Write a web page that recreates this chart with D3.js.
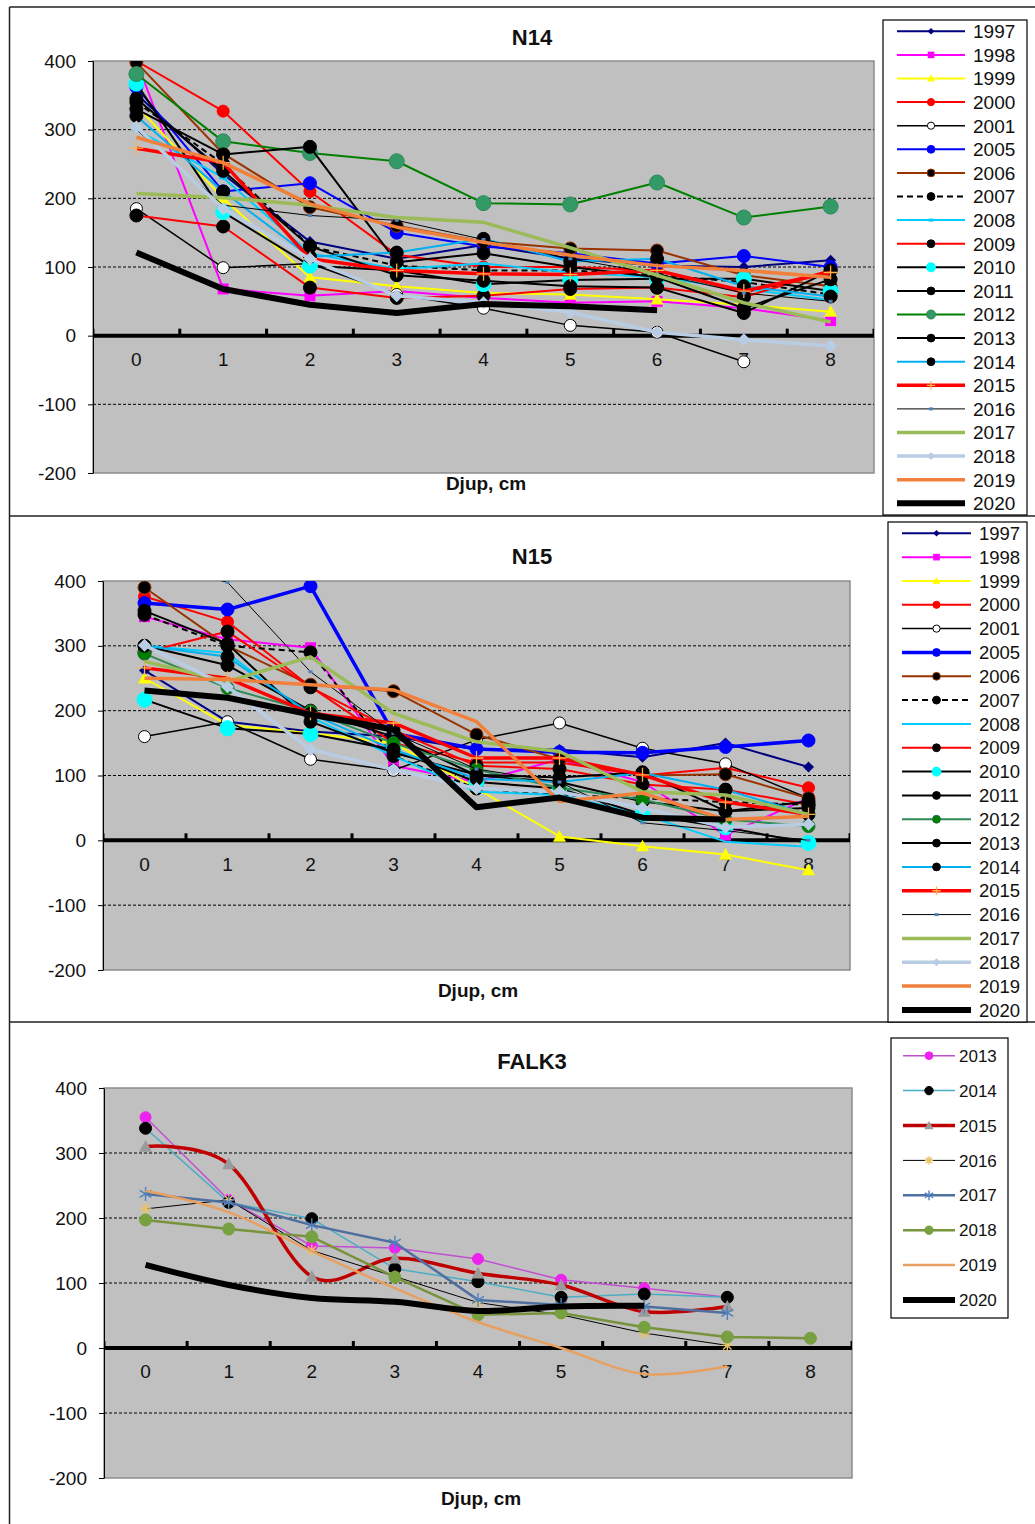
<!DOCTYPE html>
<html>
<head>
<meta charset="utf-8">
<script src="https://cdn.jsdelivr.net/npm/d3@7"></script>
<style>
  body { margin: 0; background: #fff; }
  text { font-family: "Liberation Sans", Arial, sans-serif; fill: #111; }
</style>
</head>
<body>
<svg id="viz"></svg>
<script>
// depth categories and y ticks (shared by all three charts)
const depths = [0, 1, 2, 3, 4, 5, 6, 7, 8];
const yTicks = [400, 300, 200, 100, 0, -100, -200];
const gridValues = [300, 200, 100, -100];

// N14 – one row per year, one value per depth (null = no value)
const n14Years = [1997, 1998, 1999, 2000, 2001, 2005, 2006, 2007, 2008, 2009, 2010,
  2011, 2012, 2013, 2014, 2015, 2016, 2017, 2018, 2019, 2020];
const n14Values = [
  [352, 235, 137, 112, 132, 112, 102, 100, 110],  // 1997
  [400, 68, 58, 65, 55, 48, 50, 40, 22],          // 1998
  [335, 200, 85, 72, 62, 60, 53, 45, 35],         // 1999
  [400, 327, 210, 118, 100, 100, 95, 62, 95],     // 2000
  [185, 99, 105, 60, 40, 15, 5, -38, null],       // 2001
  [362, 210, 222, 150, 130, 120, 105, 116, 100],  // 2005
  [398, 265, 187, 160, 137, 127, 124, 88, 72],    // 2006
  [340, 250, 130, 102, 95, 95, 88, 78, 60],       // 2007
  [300, 230, 120, 97, 105, 92, 85, 68, 52],       // 2008
  [175, 159, 70, 55, 58, 68, 70, 56, 95],         // 2009
  [367, 180, 102, 95, 75, 81, 83, 83, 65],        // 2010
  [345, 240, 130, 88, 80, 72, 70, 33, 95],        // 2011
  [381, 283, 266, 254, 193, 191, 223, 172, 188],  // 2012
  [330, 264, 275, 107, 120, 100, 85, 40, 82],     // 2013
  [320, 210, 115, 121, 141, 108, 112, 72, 57],    // 2014
  [273, 252, 112, 95, 90, 89, 95, 65, 92],        // 2015
  [300, 190, 175, 168, 140, 112, 90, 62, 50],     // 2016
  [207, 201, 190, 172, 165, 128, 88, 48, 20],     // 2017
  [304, 185, 112, 58, 48, 34, 5, -6, -15],        // 2018
  [289, 252, 192, 158, 136, 117, 102, 95, 85],    // 2019
  [121, 68, 45, 33, 46, 43, 37, null, null]       // 2020
];

// N15
const n15Years = [1997, 1998, 1999, 2000, 2001, 2005, 2006, 2007, 2008, 2009, 2010,
  2011, 2012, 2013, 2014, 2015, 2016, 2017, 2018, 2019, 2020];
const n15Values = [
  [262, 183, 168, 160, 140, 140, 128, 150, 113],  // 1997
  [345, 310, 297, 115, 90, 125, 90, 8, 65],       // 1998
  [250, 178, 165, 150, 80, 6, -9, -22, -46],      // 1999
  [376, 337, 237, 150, 120, 120, 100, 112, 81],   // 2000
  [160, 183, 125, 108, 155, 181, 142, 118, 65],   // 2001
  [366, 356, 392, 165, 141, 136, 135, 144, 154],  // 2005
  [390, 300, 240, 230, 163, 125, 100, 102, 65],   // 2006
  [348, 300, 290, 130, 80, 70, 65, 59, 55],       // 2007
  [300, 289, 190, 130, 75, 70, 40, -2, -10],      // 2008
  [290, 322, 236, 170, 115, 110, 86, 78, 55],     // 2009
  [217, 173, 164, 140, 90, 80, 40, 20, -4],       // 2010
  [300, 270, 200, 160, 100, 90, 60, 45, 50],      // 2011
  [288, 235, 199, 150, 109, 81, 63, 32, 22],      // 2012
  [354, 303, 183, 135, 101, 97, 105, 45, 60],     // 2013
  [300, 283, 195, 140, 95, 90, 104, 78, 40],      // 2014
  [266, 250, 196, 181, 127, 127, 101, 59, 40],    // 2015
  [430, 398, 260, 165, 110, 90, 27, 15, 0],       // 2016
  [276, 245, 283, 196, 152, 137, 75, 70, 40],     // 2017
  [301, 237, 140, 109, 80, 75, 50, 20, 25],       // 2018
  [250, 248, 240, 232, 183, 60, 73, 32, 37],      // 2019
  [231, 220, 194, 171, 51, 66, 35, 32, null]      // 2020
];

// FALK3
const falkYears = [2013, 2014, 2015, 2016, 2017, 2018, 2019, 2020];
const falkValues = [
  [355, 228, 157, 154, 137, 105, 92, 78, null],   // 2013
  [338, 224, 199, 122, 102, 78, 83, 78, null],    // 2014
  [310, 283, 110, 138, 115, 97, 56, 64, null],    // 2015
  [214, 228, 150, 110, 70, 51, 23, 4, null],      // 2016
  [237, 224, 189, 162, 74, 66, 64, 54, null],     // 2017
  [197, 183, 171, 109, 51, 54, 32, 17, 15],       // 2018
  [242, 209, 149, 92, 40, 0, -40, -28, null],     // 2019
  [128, 97, 77, 71, 57, 64, 65, null, null]       // 2020
];

// line / marker look per year
const n14Styles = {
  1997: { c: '#000080', w: 2, m: 'diamond', r: 5.5, f: '#000080' },
  1998: { c: '#FF00FF', w: 2, m: 'square', r: 5.5, f: '#FF00FF' },
  1999: { c: '#FFFF00', w: 2, m: 'triangle', r: 6.5, f: '#FFFF00' },
  2000: { c: '#FF0000', w: 2, m: 'circle', r: 6, f: '#FF0000' },
  2001: { c: '#000000', w: 1.5, m: 'circle', r: 6, f: '#FFFFFF', s: '#000' },
  2005: { c: '#0000FF', w: 2, m: 'circle', r: 6.5, f: '#0000FF' },
  2006: { c: '#993300', w: 2, m: 'circle', r: 6.5, f: '#000', s: '#993300' },
  2007: { c: '#000000', w: 2, dash: '6,4', m: 'circle', r: 6.5, f: '#000' },
  2008: { c: '#00CCFF', w: 2, m: 'dash', r: 4, f: '#00CCFF' },
  2009: { c: '#FF0000', w: 2, m: 'circle', r: 6.5, f: '#000' },
  2010: { c: '#000000', w: 2, m: 'circle', r: 7.5, f: '#00FFFF' },
  2011: { c: '#000000', w: 2, m: 'circle', r: 6.5, f: '#000' },
  2012: { c: '#008000', w: 2, m: 'circle', r: 7.5, f: '#339966', s: '#2E8B57' },
  2013: { c: '#000000', w: 2, m: 'circle', r: 6.5, f: '#000' },
  2014: { c: '#00B0F0', w: 2, m: 'circle', r: 6.5, f: '#000' },
  2015: { c: '#FF0000', w: 3.5, m: 'plus', r: 7, f: 'none', s: '#FFB347' },
  2016: { c: '#000000', w: 1, m: 'dash', r: 2, f: '#4F81BD' },
  2017: { c: '#9BBB59', w: 3.5 },
  2018: { c: '#B8CCE4', w: 3.5, m: 'diamond', r: 6.5, f: '#B8CCE4' },
  2019: { c: '#F0803C', w: 3.5 },
  2020: { c: '#000000', w: 6 }
};
const n15Styles = Object.assign({}, n14Styles, {
  2005: { c: '#0000FF', w: 3.5, m: 'circle', r: 6.5, f: '#0000FF' },
  2008: { c: '#00CCFF', w: 2 },
  2012: { c: '#2E8B57', w: 2, m: 'circle', r: 6.5, f: '#008000', s: '#1E6B3C' }
});
const falkStyles = {
  2013: { c: '#C050D0', w: 1.5, m: 'circle', r: 5.5, f: '#EE22EE' },
  2014: { c: '#4BACC6', w: 1.5, m: 'circle', r: 6, f: '#000' },
  2015: { c: '#C00000', w: 3.5, m: 'triangle', r: 6.5, f: '#9A9A9A', smooth: true },
  2016: { c: '#000000', w: 1, m: 'star', r: 6, f: 'none', s: '#E8C468' },
  2017: { c: '#4F6FA0', w: 2.5, m: 'asterisk', r: 7, f: 'none', s: '#4F81BD' },
  2018: { c: '#77933C', w: 2.5, m: 'circle', r: 6, f: '#77A040' },
  2019: { c: '#E8A060', w: 2.5, smooth: true },
  2020: { c: '#000000', w: 6, smooth: true }
};

// chart placement on the page
const panels = [
  {
    title: 'N14', years: n14Years, values: n14Values, styles: n14Styles,
    x0: 93, x1: 874, top: 61, bottom: 473, titleY: 45, xlabX: 486, xlabY: 490,
    legend: { x: 883, y: 20, w: 144, h: 495, first: 31.3, step: 23.6, lx0: 897, lx1: 965, tx: 973, font: 19, ms: 0.6 }
  },
  {
    title: 'N15', years: n15Years, values: n15Values, styles: n15Styles,
    x0: 103, x1: 850, top: 581, bottom: 970, titleY: 564, xlabX: 478, xlabY: 997,
    legend: { x: 888, y: 522, w: 139, h: 500, first: 533.3, step: 23.83, lx0: 902, lx1: 971, tx: 979, font: 18.5, ms: 0.6 }
  },
  {
    title: 'FALK3', years: falkYears, values: falkValues, styles: falkStyles,
    x0: 104, x1: 852, top: 1088, bottom: 1478, titleY: 1069, xlabX: 481, xlabY: 1505,
    legend: { x: 891, y: 1038, w: 117, h: 280, first: 1055.7, step: 34.9, lx0: 903, lx1: 955, tx: 959, font: 17, ms: 0.7 }
  }
];

const svg = d3.select('#viz').attr('width', 1035).attr('height', 1524);

// outer frames around the three charts
const frame = svg.append('g').attr('stroke', '#222').attr('stroke-width', 1.5).attr('fill', 'none');
frame.append('line').attr('x1', 9.5).attr('x2', 1035).attr('y1', 7).attr('y2', 7);
frame.append('line').attr('x1', 9.5).attr('x2', 9.5).attr('y1', 7).attr('y2', 1524);
frame.append('line').attr('x1', 9.5).attr('x2', 1035).attr('y1', 516).attr('y2', 516);
frame.append('line').attr('x1', 9.5).attr('x2', 1035).attr('y1', 1022).attr('y2', 1022);

function drawMarker(g, st, r) {
  const fill = st.f || st.c;
  const stroke = st.s || fill;
  if (st.m === 'circle') {
    g.append('circle').attr('r', r).attr('fill', fill).attr('stroke', stroke).attr('stroke-width', 1);
  } else if (st.m === 'square') {
    g.append('rect').attr('x', -r).attr('y', -r).attr('width', 2 * r).attr('height', 2 * r)
      .attr('fill', fill);
  } else if (st.m === 'diamond') {
    g.append('path').attr('d', `M0,${-r}L${r},0L0,${r}L${-r},0Z`).attr('fill', fill);
  } else if (st.m === 'triangle') {
    g.append('path').attr('d', `M0,${-r}L${r},${r * 0.8}L${-r},${r * 0.8}Z`).attr('fill', fill);
  } else if (st.m === 'dash') {
    g.append('rect').attr('x', -r).attr('y', -1.5).attr('width', 2 * r).attr('height', 3).attr('fill', fill);
  } else if (st.m === 'plus') {
    g.append('path').attr('d', `M${-r},0H${r}M0,${-r}V${r}`).attr('stroke', stroke).attr('stroke-width', 1.3);
  } else if (st.m === 'star' || st.m === 'asterisk') {
    const a = r * 0.7;
    const d = st.m === 'star'
      ? `M${-r},0H${r}M0,${-r}V${r}M${-a},${-a}L${a},${a}M${-a},${a}L${a},${-a}`
      : `M0,${-r}V${r}M${-a * 1.2},${-r / 2}L${a * 1.2},${r / 2}M${-a * 1.2},${r / 2}L${a * 1.2},${-r / 2}`;
    g.append('path').attr('d', d).attr('stroke', stroke).attr('stroke-width', 1.4);
  }
}

panels.forEach((p, pi) => {
  const x = d3.scaleBand().domain(depths).range([p.x0, p.x1]);
  const y = d3.scaleLinear().domain([-200, 400]).range([p.bottom, p.top]);
  const cx = d => x(d) + x.bandwidth() / 2;
  const g = svg.append('g');

  // plot area
  g.append('rect').attr('x', p.x0).attr('y', p.top)
    .attr('width', p.x1 - p.x0).attr('height', p.bottom - p.top)
    .attr('fill', '#C0C0C0').attr('stroke', '#8C8C8C').attr('stroke-width', 1.5);

  g.append('g').selectAll('line').data(gridValues).join('line')
    .attr('x1', p.x0).attr('x2', p.x1)
    .attr('y1', d => y(d)).attr('y2', d => y(d))
    .attr('stroke', '#000').attr('stroke-width', 1).attr('stroke-dasharray', '3,2');

  // y axis (plain hyphen for negatives, as in the original)
  const yAxis = g.append('g').attr('transform', `translate(${p.x0},0)`)
    .call(d3.axisLeft(y).tickValues(yTicks).tickFormat(d => String(d))
      .tickSize(5).tickPadding(12).tickSizeOuter(0));
  yAxis.select('.domain').attr('stroke', '#000');
  yAxis.selectAll('text').attr('font-size', 19).attr('fill', '#111')
    .style('font-family', '"Liberation Sans", Arial, sans-serif');

  // category labels
  const xAxis = g.append('g').attr('transform', `translate(0,${y(0)})`)
    .call(d3.axisBottom(x).tickSize(0).tickPadding(17));
  xAxis.select('.domain').remove();
  xAxis.selectAll('text').attr('font-size', 19).attr('fill', '#111')
    .style('font-family', '"Liberation Sans", Arial, sans-serif');

  // series
  const clipId = 'clip' + pi;
  g.append('clipPath').attr('id', clipId).append('rect')
    .attr('x', p.x0).attr('y', p.top).attr('width', p.x1 - p.x0).attr('height', p.bottom - p.top);
  const series = g.append('g').attr('clip-path', `url(#${clipId})`);
  const straight = d3.line().x(d => cx(d.x)).y(d => y(d.v));
  const smooth = d3.line().x(d => cx(d.x)).y(d => y(d.v)).curve(d3.curveCardinal.tension(0));

  // zero line with category ticks (under the series)
  series.append('line').attr('x1', p.x0).attr('x2', p.x1).attr('y1', y(0)).attr('y2', y(0))
    .attr('stroke', '#000').attr('stroke-width', 4);
  series.selectAll('.tk').data(d3.range(depths.length + 1)).join('line')
    .attr('x1', i => p.x0 + i * x.step()).attr('x2', i => p.x0 + i * x.step())
    .attr('y1', y(0) - 7).attr('y2', y(0))
    .attr('stroke', '#000').attr('stroke-width', 3);

  p.years.forEach((yr, i) => {
    const st = p.styles[yr];
    const pts = depths.map((d, j) => ({ x: d, v: p.values[i][j] })).filter(d => d.v !== null);
    series.append('path').datum(pts).attr('d', st.smooth ? smooth : straight)
      .attr('fill', 'none').attr('stroke', st.c).attr('stroke-width', st.w)
      .attr('stroke-dasharray', st.dash || null).attr('stroke-linejoin', 'round');
    if (st.m) {
      series.append('g').selectAll('g').data(pts).join('g')
        .attr('transform', d => `translate(${cx(d.x)},${y(d.v)})`)
        .each(function () { drawMarker(d3.select(this), st, st.r); });
    }
  });

  // titles
  g.append('text').attr('x', 532).attr('y', p.titleY).attr('text-anchor', 'middle')
    .attr('font-size', 22).attr('font-weight', 'bold').text(p.title);
  g.append('text').attr('x', p.xlabX).attr('y', p.xlabY).attr('text-anchor', 'middle')
    .attr('font-size', 19).attr('font-weight', 'bold').text('Djup, cm');

  // legend
  const L = p.legend;
  const lg = g.append('g');
  lg.append('rect').attr('x', L.x).attr('y', L.y).attr('width', L.w).attr('height', L.h)
    .attr('fill', '#fff').attr('stroke', '#000').attr('stroke-width', 1.2);
  p.years.forEach((yr, i) => {
    const st = p.styles[yr];
    const ly = L.first + i * L.step;
    lg.append('line').attr('x1', L.lx0).attr('x2', L.lx1).attr('y1', ly).attr('y2', ly)
      .attr('stroke', st.c).attr('stroke-width', st.w).attr('stroke-dasharray', st.dash || null);
    if (st.m) {
      const mg = lg.append('g').attr('transform', `translate(${(L.lx0 + L.lx1) / 2},${ly})`);
      drawMarker(mg, st, Math.max(st.r * L.ms, 2));
    }
    lg.append('text').attr('x', L.tx).attr('y', ly).attr('dy', '0.36em')
      .attr('font-size', L.font).text(yr);
  });
});
</script>
</body>
</html>
